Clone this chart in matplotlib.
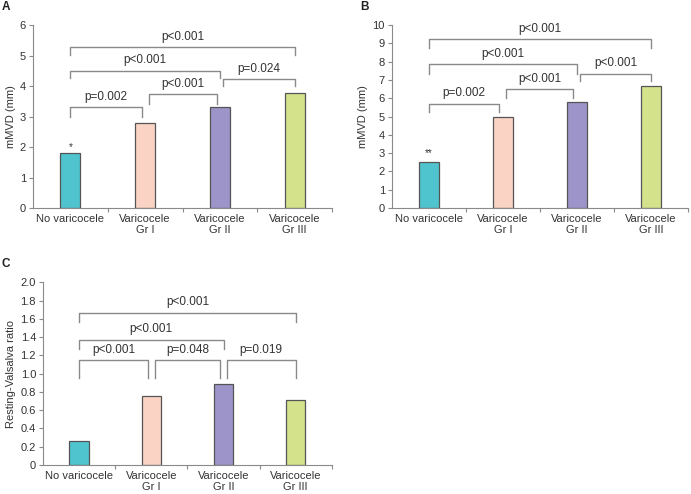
import matplotlib
matplotlib.use("Agg")
import matplotlib.pyplot as plt

plt.rcParams["font.family"] = ["Liberation Sans", "DejaVu Sans"]
plt.rcParams["font.size"] = 8

# -----------------------------
# Data
# -----------------------------
categories = ["No varicocele", "Varicocele\nGr I", "Varicocele\nGr II", "Varicocele\nGr III"]
bar_colors = ["#4fc4cf", "#fad3c4", "#9d95c9", "#d5e28c"]

mmvd_a = [1.8, 2.78, 3.3, 3.78]
mmvd_b = [2.5, 5.0, 5.8, 6.65]
ratio_c = [0.26, 0.76, 0.89, 0.71]

# (left bar, right bar, bracket height, leg bottom, label)
brackets_a = [
    (0, 1, 3.3, 3.0, "p=0.002"),
    (1, 2, 3.73, 3.41, "p<0.001"),
    (0, 2, 4.5, 4.28, "p<0.001"),
    (2, 3, 4.22, 4.0, "p=0.024"),
    (0, 3, 5.27, 5.02, "p<0.001"),
]
brackets_b = [
    (0, 1, 5.69, 5.27, "p=0.002"),
    (1, 2, 6.49, 6.0, "p<0.001"),
    (0, 2, 7.85, 7.33, "p<0.001"),
    (2, 3, 7.33, 6.96, "p<0.001"),
    (0, 3, 9.24, 8.73, "p<0.001"),
]
brackets_c = [
    (0, 1, 1.144, 0.955, "p<0.001"),
    (1, 2, 1.144, 0.955, "p=0.048"),
    (2, 3, 1.144, 0.955, "p=0.019"),
    (0, 2, 1.37, 1.27, "p<0.001"),
    (0, 3, 1.668, 1.57, "p<0.001"),
]

GRAY = "#8a8a8a"
TEXT = "#333333"


def draw_panel(ax, values, brackets, ymax, yticks, yticklabels, ylabel, star=None, star_y=None):
    x = range(len(values))
    ax.bar(x, values, width=0.27, color=bar_colors, edgecolor="#555555", linewidth=0.9, zorder=2)
    ax.set_xlim(-0.5, 3.5)
    ax.set_ylim(0, ymax)
    ax.set_yticks(yticks)
    ax.set_yticklabels(yticklabels)
    ax.set_xticks([0.5, 1.5, 2.5, 3.5])
    ax.set_xticklabels([])
    ax.set_xticks(list(x), minor=True)
    ax.set_xticklabels(categories, minor=True)
    ax.tick_params(axis="x", which="minor", length=0, pad=4, labelcolor=TEXT)
    ax.tick_params(axis="x", which="major", length=3, color=GRAY)
    ax.tick_params(axis="y", length=3, color=GRAY, labelcolor=TEXT, pad=2)
    for side in ["top", "right"]:
        ax.spines[side].set_visible(False)
    for side in ["left", "bottom"]:
        ax.spines[side].set_color(GRAY)
    ax.set_ylabel(ylabel, color=TEXT, labelpad=3)

    # adjacent brackets (i -> i+1) leave a small gap at the shared bar
    for i0, i1, h, low, label in brackets:
        x0, x1 = i0, i1
        if i1 - i0 == 1:
            if i0 > 0:
                x0 = i0 + 0.045
            if i1 < 3:
                x1 = i1 - 0.045
        ax.plot([x0, x0, x1, x1], [low, h, h, low], color=GRAY, linewidth=1.0, zorder=3)
        ax.text((x0 + x1) / 2, h + ymax * 0.025, label, ha="center", va="bottom",
                color=TEXT, fontsize=8.5)

    if star:
        ax.text(0, star_y, star, ha="center", va="center", color=TEXT, fontsize=7)


fig = plt.figure(figsize=(6.91, 4.94), dpi=100)

ax_a = fig.add_axes([0.0478, 0.579, 0.4327, 0.370])
draw_panel(ax_a, mmvd_a, brackets_a, 6, range(0, 7), [str(v) for v in range(0, 7)],
           "mMVD (mm)", "*", 2.0)

ax_b = fig.add_axes([0.567, 0.579, 0.4283, 0.370])
draw_panel(ax_b, mmvd_b, brackets_b, 10, range(0, 11), [str(v) for v in range(0, 11)],
           "mMVD (mm)", "**", 3.0)

c_ticks = [i * 0.2 for i in range(11)]
c_labels = ["0"] + [f"{v:.1f}" for v in c_ticks[1:]]
ax_c = fig.add_axes([0.0622, 0.0587, 0.418, 0.370])
draw_panel(ax_c, ratio_c, brackets_c, 2.0, c_ticks, c_labels, "Resting-Valsalva ratio")

# panel letters
for letter, (px, py) in zip(["A", "B", "C"], [(2, 10), (360, 10), (2, 267)]):
    fig.text(px / 691, 1 - py / 494, letter, fontsize=8.5, fontweight="bold",
             color="#222222", ha="left", va="baseline")

fig.savefig("out.png", dpi=100)
